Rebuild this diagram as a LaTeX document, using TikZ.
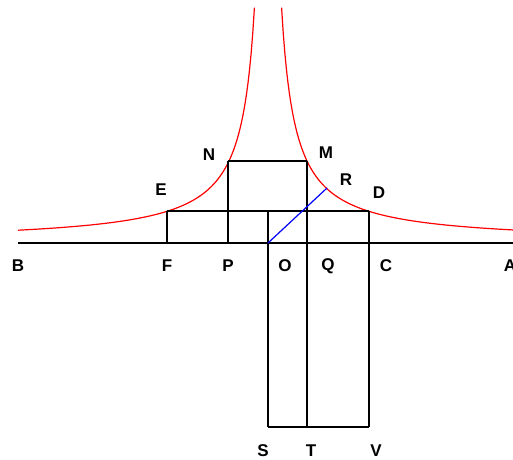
\documentclass[tikz,border=0pt]{standalone}
\usepackage{fontspec}
\setmainfont{Liberation Sans}
\usepackage{tikz}

\begin{document}
\begin{tikzpicture}[
    x=1pt, y=-1pt,
    lbl/.style={font=\fontsize{17}{20}\selectfont\bfseries, inner sep=0pt},
    edge/.style={line width=1.2pt},
    curve/.style={red, line width=1.2pt}
  ]
    \useasboundingbox (0,0) rectangle (513,459);
    % points
    \coordinate (B) at (18,243);
    \coordinate (A) at (513,243);
    \coordinate (O) at (268,243);
    \coordinate (F) at (167,243);
    \coordinate (P) at (228,243);
    \coordinate (E) at (167,211);
    \coordinate (D) at (369,211);
    \coordinate (N) at (228,161);
    \coordinate (M) at (307,161);
    \coordinate (R) at (327,188);
    \coordinate (G) at (268,211);
    \coordinate (S) at (268,427);
    \coordinate (T) at (307,427);
    \coordinate (V) at (369,427);
    % hyperbola
    \draw[curve] plot[domain=13.6:250, samples=150] ({268-\x},{243-3200/\x});
    \draw[curve] plot[domain=13.6:245, samples=150] ({268+\x},{243-3200/\x});
    % lines
    \draw[edge] (B) -- (A);
    \draw[edge] (E) -- (D);
    \draw[edge] (N) -- (M);
    \draw[edge] (E) -- (F);
    \draw[edge] (N) -- (P);
    \draw[edge] (M) -- (T);
    \draw[edge] (D) -- (V);
    \draw[edge] (S) -- (V);
    \draw[line width=2.6pt] (G) -- (S);
    \draw[blue, line width=1.2pt] (O) -- (R);
    % labels
    \node[lbl] (lB) at (18,266) {B};
    \node[lbl] (lF) at (167,266) {F};
    \node[lbl] (lP) at (228,266) {P};
    \node[lbl] (lO) at (285,266) {O};
    \node[lbl] (lQ) at (328,266) {Q};
    \node[lbl] (lC) at (386,266) {C};
    \node[lbl] (lA) at (510,266) {A};
    \node[lbl] (lN) at (209,155) {N};
    \node[lbl] (lM) at (326,153) {M};
    \node[lbl] (lE) at (161,190) {E};
    \node[lbl] (lR) at (346,180) {R};
    \node[lbl] (lD) at (379,193) {D};
    \node[lbl] (lS) at (263,451) {S};
    \node[lbl] (lT) at (311,451) {T};
    \node[lbl] (lV) at (376,451) {V};
  \end{tikzpicture}
\end{document}
